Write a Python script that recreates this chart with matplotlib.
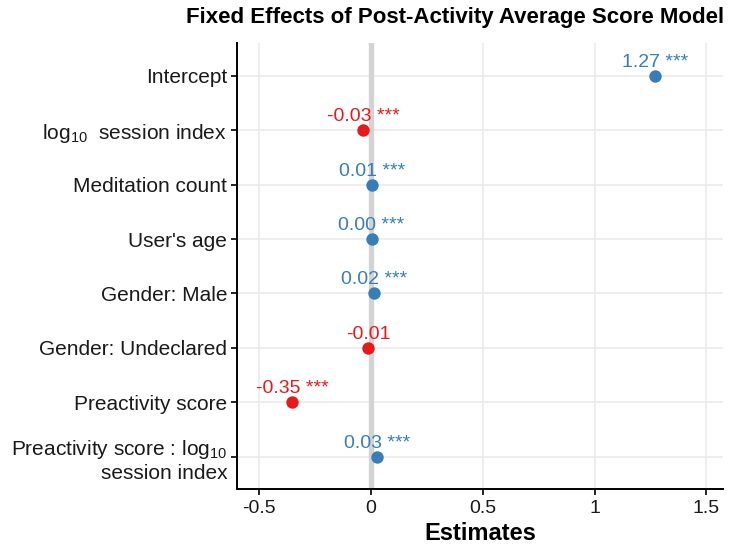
import matplotlib
matplotlib.use("Agg")
import matplotlib.pyplot as plt

plt.rcParams['font.family'] = ['Liberation Sans', 'DejaVu Sans']
plt.rcParams['mathtext.fontset'] = 'custom'
plt.rcParams['mathtext.rm'] = 'Liberation Sans'
plt.rcParams['mathtext.it'] = 'Liberation Sans'

# terms, top to bottom
terms = ["Intercept",
         r"log$_{\mathregular{10}}$  session index",
         "Meditation count",
         "User's age",
         "Gender: Male",
         "Gender: Undeclared",
         "Preactivity score",
         "Preactivity score : log$_{\\mathregular{10}}$\nsession index"]
estimates = [1.27, -0.035, 0.005, 0.002, 0.015, -0.012, -0.352, 0.028]
labels = ["1.27", "-0.03", "0.01", "0.00", "0.02", "-0.01", "-0.35", "0.03"]
stars = ["***", "***", "***", "***", "***", "", "***", "***"]

BLUE = '#377EB8'
RED = '#E41A1C'

fig = plt.figure(figsize=(7.29, 5.54), dpi=100)
ax = fig.add_axes([0.325, 0.117, 0.667, 0.805])

n = len(terms)
ypos = list(range(n, 0, -1))

ax.set_xlim(-0.6, 1.575)
ax.set_ylim(0.4, n + 0.6)

ax.set_xticks([-0.5, 0, 0.5, 1, 1.5])
ax.set_xticklabels(["-0.5", "0", "0.5", "1", "1.5"])
ax.set_yticks(ypos)
ax.set_yticklabels(terms, ha='right')

ax.grid(True, color='#EBEBEB', linewidth=1.2)
ax.set_axisbelow(True)
ax.axvline(0, color='#D3D3D3', linewidth=3.8, zorder=1)

for y, est, lab, st in zip(ypos, estimates, labels, stars):
    col = BLUE if est >= 0 else RED
    ax.scatter(est, y, s=80, color=col, zorder=3, linewidths=0)
    txt = lab + (" " + st if st else "")
    ax.annotate(txt, (est, y), xytext=(0, 6.5), textcoords='offset points',
                ha='center', va='baseline', color=col, fontsize=14, zorder=4)

for s in ['top', 'right']:
    ax.spines[s].set_visible(False)
for s in ['left', 'bottom']:
    ax.spines[s].set_linewidth(1.4)
    ax.spines[s].set_color('black')

ax.tick_params(axis='both', length=4, width=1.2, color='black',
               labelcolor='#1a1a1a')
ax.tick_params(axis='y', pad=3, labelsize=15)
ax.tick_params(axis='x', labelsize=14)

ax.set_xlabel("Estimates", fontsize=17, fontweight='bold', labelpad=4)
fig.text(0.624, 0.968, "Fixed Effects of Post-Activity Average Score Model",
         ha='center', va='center', fontsize=16, fontweight='bold')

fig.savefig("out.png", dpi=100)
